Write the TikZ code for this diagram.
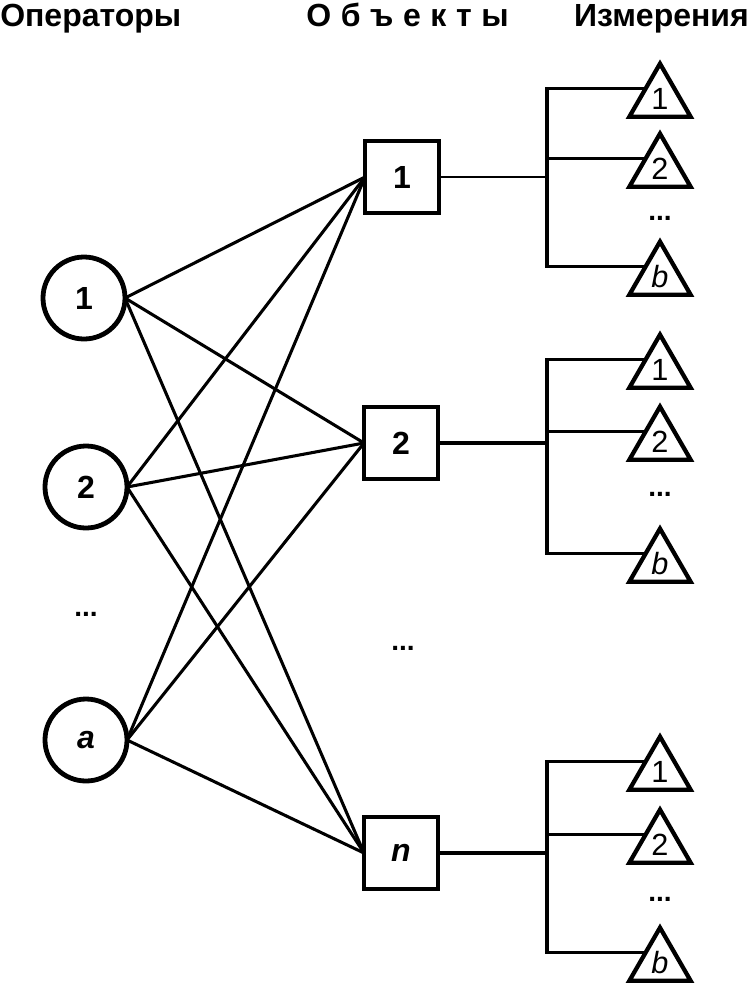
\documentclass[tikz,border=0pt]{standalone}
\usepackage{fontspec}
\setmainfont{Liberation Sans}
\usetikzlibrary{shapes.geometric}
\begin{document}
\begin{tikzpicture}[x=0.75pt,y=-0.75pt,
  op/.style={circle,draw,line width=3.6pt,minimum size=61.5pt,inner sep=0pt,outer sep=0pt,font=\bfseries\fontsize{24}{28}\selectfont},
  obj/.style={rectangle,draw,line width=3.6pt,minimum width=55.5pt,minimum height=54pt,inner sep=0pt,outer sep=0pt,font=\bfseries\fontsize{24}{28}\selectfont},
  meas/.style={regular polygon,regular polygon sides=3,draw,line width=3.2pt,minimum size=53pt,inner sep=0pt,outer sep=0pt,font=\fontsize{23}{27}\selectfont},
  link/.style={line width=2.3pt},
  tree/.style={line width=2.6pt},
  thintree/.style={line width=1.7pt},
  head/.style={font=\bfseries\fontsize{24}{28}\selectfont,inner sep=0pt,anchor=base west},
  dotsnode/.style={font=\bfseries\fontsize{21}{25}\selectfont,inner sep=0pt,anchor=base}]
\useasboundingbox (0,0) rectangle (749,986);

% headers
\node[head] (h1) at (0,26) {Операторы};
\node[head] (h2) at (306,26) {О\hspace{0.3em}б\hspace{0.3em}ъ\hspace{0.3em}е\hspace{0.3em}к\hspace{0.3em}т\hspace{0.3em}ы};
\node[head,anchor=base east] (h3) at (749,26) {Измерения};

% operators
\node[op] (o1) at (84,298) {1};
\node[op] (o2) at (86,487) {2};
\node[op] (oa) at (86,740) {\itshape a};
\node[dotsnode] (od) at (86,616) {...};

% objects
\node[obj] (s1) at (402,177) {1};
\node[obj] (s2) at (401,443) {2};
\node[obj] (sn) at (401,853) {\itshape n};
\node[dotsnode] (sd) at (403,650) {...};

% measurements
\node[meas] (t11) at (660,99) {1};
\node[meas] (t12) at (660,169) {2};
\node[meas] (t1b) at (660,277) {\itshape b};
\node[dotsnode] (d1) at (660,220) {...};

\node[meas] (t21) at (660,370) {1};
\node[meas] (t22) at (660,442) {2};
\node[meas] (t2b) at (660,564) {\itshape b};
\node[dotsnode] (d2) at (660,496) {...};

\node[meas] (t31) at (660,772) {1};
\node[meas] (t32) at (660,845) {2};
\node[meas] (t3b) at (660,963) {\itshape b};
\node[dotsnode] (d3) at (660,901) {...};

% bracket junctions
\coordinate (bx1) at (547,177);
\coordinate (bx2) at (547,443);
\coordinate (bx3) at (547,853);

% operator-object links
\foreach \o in {o1,o2,oa}
  \foreach \s in {s1,s2,sn}
    \draw[link] (\o.east) -- (\s.west);

% group 1
\draw[thintree] (s1.east) -- (bx1);
\draw[tree] (t11.144) -- (t11.144 -| bx1) -- (t1b.144 -| bx1) -- (t1b.144);
\draw[thintree] (t12.144 -| bx1) -- (t12.144);

% group 2
\draw[tree] (s2.east) -- (bx2);
\draw[tree] (t21.144) -- (t21.144 -| bx2) -- (t2b.144 -| bx2) -- (t2b.144);
\draw[tree] (t22.144 -| bx2) -- (t22.144);

% group 3
\draw[tree] (sn.east) -- (bx3);
\draw[tree] (t31.144) -- (t31.144 -| bx3) -- (t3b.144 -| bx3) -- (t3b.144);
\draw[tree] (t32.144 -| bx3) -- (t32.144);
\end{tikzpicture}
\end{document}
